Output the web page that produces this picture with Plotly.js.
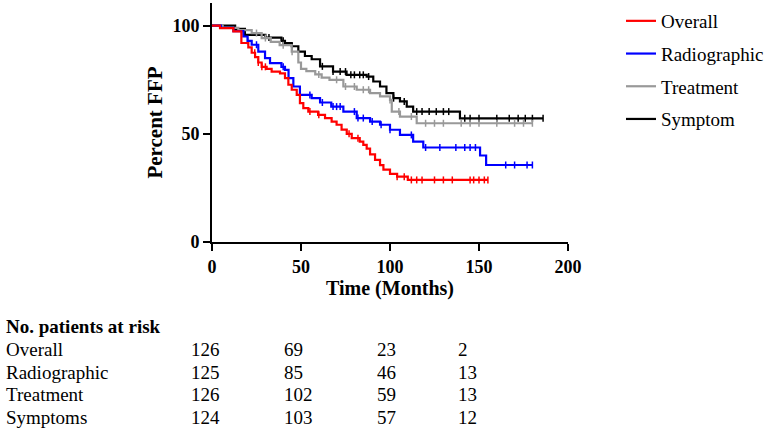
<!DOCTYPE html>
<html><head><meta charset="utf-8">
<script src="https://cdn.plot.ly/plotly-3.0.1.min.js"></script>
<style>html,body{margin:0;padding:0;background:#fff}#chart{width:772px;height:433px}</style>
</head><body><div id="chart"></div>
<script>
// Kaplan-Meier step data (months, percent FFP)
const overallT = [0,4.5,12,16.5,20.4,22.3,24.2,26,27.9,30.7,33.5,38.2,41,42.9,44.8,47.6,49.4,51.3,54.1,59.6,63.5,67.2,70,72.8,75.7,78.5,83,85,86.9,88.8,91.6,94.4,96.3,100,104,110,155];
const overallS = [100,98.9,97.4,92,90,87.5,85.5,83,81,80,78.8,78,75.8,72.7,70.4,68,64.2,61.9,60.3,58.8,57.3,55.7,54.2,52,50,48,46.4,44.9,43.2,40.5,38,35.5,33.5,31.5,30.2,28.7,28.7];
const overallC = [24,26,28,30,55,60,77,82,104,108,112,115,118,125,130,135,145,147,150,153,155];

const radioT = [0,5,12,17.6,20,22.3,26,29.8,32.6,39,41,43,45.7,49.4,56,60.7,67,73.8,81.3,88.8,94.4,100,105.6,113,118.7,150.6,154,180];
const radioS = [100,99,97.5,95,93,91.2,88,85,82.7,81,79.6,75.8,71.9,68,66.5,64.5,62.6,60.3,57.3,55.7,54.2,51.9,49.5,46.4,43.7,40,35.6,35.6];
const radioC = [20,25,40,55,62,68,70,72,80,82,85,90,95,100,112,120,128,137,142,145,148,165,170,177,180];

const treatT = [0,6,14.8,22.3,27.9,33,38,44.8,48.5,50,53,58,61.6,66,73.8,81.3,88.8,94.4,100,101,105.6,115,180];
const treatS = [100,99,98,96.6,94.3,92.5,91,88,83,80,79,77.5,76,75,71.9,70.4,68.8,67.3,65.7,60.3,58,54.9,54.9];
const treatC = [25,30,40,45,60,70,75,80,85,88,100,105,112,120,125,130,140,145,150,160,170,175,180];

const sympT = [0,13,18.5,30,39,41,44.8,48.5,52.2,56,60.7,68,75.6,86.9,90.6,94.4,98,101.9,105.6,109.4,113,139.3,186];
const sympS = [100,98.5,95.8,94.5,93,92,90.5,88,86,84.5,81.2,78.8,77.3,76.5,74.2,71.9,68.8,66.5,65,62.6,60.3,57.2,57.2];
const sympC = [32,40,45,62,68,72,75,78,80,83,85,88,102,108,115,118,122,126,130,133,142,145,150,160,167,172,176,180,186];

const seriesNames = ["Overall","Radiographic","Treatment","Symptom"];
const seriesColors = ["#ff0000","#0000ff","#999999","#000000"];

// At-risk table
const riskHeader = "No. patients at risk";
const riskLabels = ["Overall","Radiographic","Treatment","Symptoms"];
const riskOverall = [126,69,23,2];
const riskRadio = [125,85,46,13];
const riskTreat = [126,102,59,13];
const riskSymp = [124,103,57,12];

const xTicks = [0,50,100,150,200];
const yTicks = [0,50,100];

function stepAt(T,S,t){let v=S[0];for(let i=0;i<T.length;i++){if(T[i]<=t)v=S[i];}return v;}

const sets = [[overallT,overallS,overallC],[radioT,radioS,radioC],[treatT,treatS,treatC],[sympT,sympS,sympC]];
const traces = [];
const order = [3,2,1,0];
order.forEach(i=>{
  const [T,S,C]=sets[i];
  traces.push({x:T,y:S,mode:'lines',line:{shape:'hv',color:seriesColors[i],width:2.2},name:seriesNames[i],legendgroup:'g'+i,legendrank:i+1,hoverinfo:'skip'});
  traces.push({x:C,y:C.map(t=>stepAt(T,S,t)),mode:'markers',showlegend:false,legendgroup:'g'+i,
    marker:{symbol:'line-ns',size:5,line:{width:1.5,color:seriesColors[i]}},hoverinfo:'skip'});
});

const L=212,R=568,TOP=3,BOT=242;
const W=R-L,H=BOT-TOP;
const px=x=>(x-L)/W, py=y=>(BOT-y)/H;
const serif="Liberation Serif, Times New Roman, serif";
const ann=[];
const tf={family:serif,size:19,color:'#000'};
ann.push({text:'<b>'+riskHeader+'</b>',x:px(4),y:py(326),xref:'paper',yref:'paper',xanchor:'left',yanchor:'middle',showarrow:false,font:tf});
const rows=[riskOverall,riskRadio,riskTreat,riskSymp];
const rowY=[349,372,395,417];
const colX=[189,282,375,456];
riskLabels.forEach((lab,r)=>{
  ann.push({text:lab,x:px(4),y:py(rowY[r]),xref:'paper',yref:'paper',xanchor:'left',yanchor:'middle',showarrow:false,font:tf});
  rows[r].forEach((v,c)=>{
    ann.push({text:String(v),x:px(colX[c]),y:py(rowY[r]),xref:'paper',yref:'paper',xanchor:'left',yanchor:'middle',showarrow:false,font:tf});
  });
});

const layout={
  width:772,height:433,
  margin:{l:L,r:772-R,t:TOP,b:433-BOT,pad:0,autoexpand:false},
  paper_bgcolor:'#fff',plot_bgcolor:'#fff',
  font:{family:serif,color:'#000'},
  xaxis:{range:[0,200],tickvals:xTicks,ticktext:xTicks.map(v=>'<b>'+v+'</b>'),ticks:'outside',ticklen:7,tickwidth:2,tickcolor:'#000',
    showline:true,linewidth:2,linecolor:'#000',showgrid:false,zeroline:false,tickfont:{family:serif,size:18,color:'#000'},
    title:{text:'<b>Time (Months)</b>',font:{family:serif,size:20,color:'#000'},standoff:3}},
  yaxis:{range:[0,110.5],tickvals:yTicks,ticktext:yTicks.map(v=>'<b>'+v+'</b>'),ticks:'outside',ticklen:7,tickwidth:2,tickcolor:'#000',
    showline:true,linewidth:2,linecolor:'#000',showgrid:false,zeroline:false,tickfont:{family:serif,size:18,color:'#000'},
    title:{text:'<b>Percent FFP</b>',font:{family:serif,size:21,color:'#000'},standoff:4}},
  showlegend:true,
  legend:{x:px(621),xref:'paper',y:1-2/433,yref:'container',xanchor:'left',yanchor:'top',font:{family:serif,size:19,color:'#000'},tracegroupgap:5,traceorder:'grouped',bgcolor:'rgba(0,0,0,0)'},
  annotations:ann
};
Plotly.newPlot('chart',traces,layout,{displayModeBar:false,staticPlot:true});
</script></body></html>
